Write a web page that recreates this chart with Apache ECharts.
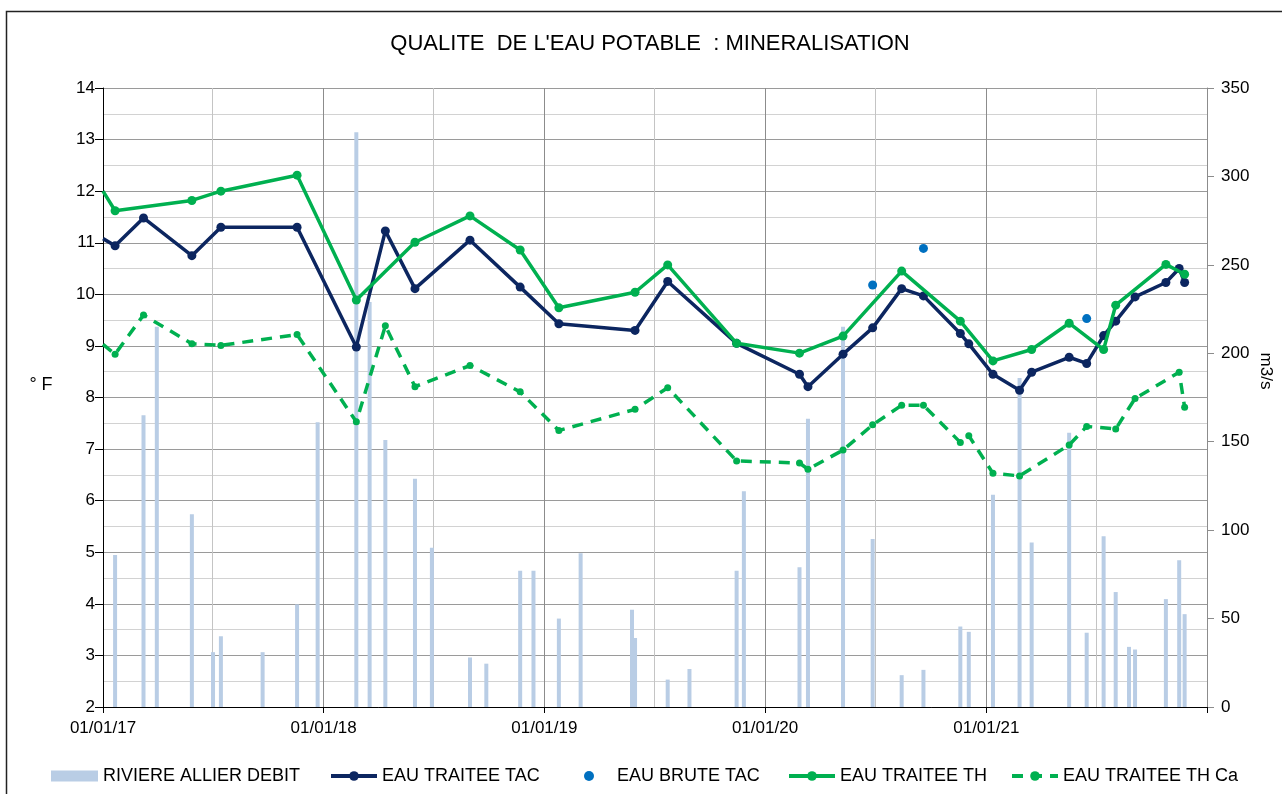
<!DOCTYPE html>
<html>
<head>
<meta charset="utf-8">
<script src="https://cdn.jsdelivr.net/npm/echarts@6/dist/echarts.min.js"></script>
<style>
  html, body { margin: 0; padding: 0; background: #fff; }
  #chart { width: 1282px; height: 794px; }
</style>
</head>
<body>
<div id="chart"></div>
<script>
// ---- Data -------------------------------------------------------------
const yearTicks = ['2017-01-01', '2018-01-01', '2019-01-01', '2020-01-01', '2021-01-01', '2022-01-01'];
const yearLabels = ['2017-01-01', '2018-01-01', '2019-01-01', '2020-01-01', '2021-01-01'];
const halfYearLines = ['2017-07-01', '2018-07-01', '2019-07-01', '2020-07-01', '2021-07-01'];

// River flow (m3/s)
const debitDates = [
  '2017-01-21', '2017-03-09', '2017-03-31', '2017-05-28', '2017-07-02', '2017-07-15', '2017-09-22', '2017-11-18', '2017-12-22',
  '2018-02-24', '2018-03-18', '2018-04-13', '2018-06-01', '2018-06-29', '2018-08-31', '2018-09-27', '2018-11-22', '2018-12-14',
  '2019-01-25', '2019-03-02', '2019-05-26', '2019-05-31', '2019-07-24', '2019-08-29', '2019-11-15', '2019-11-27',
  '2020-02-27', '2020-03-12', '2020-05-09', '2020-06-27', '2020-08-14', '2020-09-19', '2020-11-19', '2020-12-03',
  '2021-01-12', '2021-02-25', '2021-03-17', '2021-05-18', '2021-06-16', '2021-07-14', '2021-08-03', '2021-08-25',
  '2021-09-04', '2021-10-25', '2021-11-16', '2021-11-25'
];
const debitValues = [
  86, 165, 215, 109, 31, 40, 31, 58, 161,
  325, 229, 151, 129, 90, 28, 24.5, 77, 77,
  50, 87, 55, 39, 15.5, 21.5, 77, 122,
  79, 163, 215, 95, 18, 21, 45.5, 42.5,
  120, 186, 93, 155, 42, 96.5, 65, 34,
  32.5, 61, 83, 52.5
];

// Treated water TAC (°F)
const tacDates = [
  '2017-01-01', '2017-01-21', '2017-03-09', '2017-05-28', '2017-07-15', '2017-11-18',
  '2018-02-24', '2018-04-13', '2018-06-01', '2018-08-31', '2018-11-22',
  '2019-01-25', '2019-05-31', '2019-07-24', '2019-11-15',
  '2020-02-27', '2020-03-12', '2020-05-09', '2020-06-27', '2020-08-14', '2020-09-19', '2020-11-19', '2020-12-03',
  '2021-01-12', '2021-02-25', '2021-03-17', '2021-05-18', '2021-06-16', '2021-07-14', '2021-08-03', '2021-09-04',
  '2021-10-25', '2021-11-16', '2021-11-25'
];
const tacValues = [
  11.08, 10.94, 11.48, 10.75, 11.30, 11.30,
  8.98, 11.23, 10.11, 11.05, 10.14,
  9.43, 9.30, 10.25, 9.05,
  8.45, 8.21, 8.84, 9.35, 10.11, 9.97, 9.24, 9.04,
  8.45, 8.14, 8.49, 8.78, 8.66, 9.20, 9.48, 9.95,
  10.23, 10.50, 10.23
];

// Raw water TAC (°F)
const bruteDates = ['2020-06-27', '2020-09-19', '2021-06-16'];
const bruteValues = [10.18, 10.89, 9.53];

// Treated water TH (°F)
const thDates = [
  '2017-01-01', '2017-01-21', '2017-05-28', '2017-07-15', '2017-11-18',
  '2018-02-24', '2018-06-01', '2018-08-31', '2018-11-22',
  '2019-01-25', '2019-05-31', '2019-07-24', '2019-11-15',
  '2020-02-27', '2020-05-09', '2020-08-14', '2020-11-19',
  '2021-01-12', '2021-03-17', '2021-05-18', '2021-07-14', '2021-08-03', '2021-10-25', '2021-11-25'
];
const thValues = [
  12.00, 11.62, 11.82, 12.00, 12.31,
  9.89, 11.01, 11.52, 10.86,
  9.74, 10.04, 10.57, 9.05,
  8.86, 9.19, 10.45, 9.48,
  8.71, 8.93, 9.44, 8.93, 9.79, 10.58, 10.39
];

// Treated water TH Ca (°F)
const thCaDates = [
  '2017-01-01', '2017-01-21', '2017-03-09', '2017-05-28', '2017-07-15', '2017-11-18',
  '2018-02-24', '2018-04-13', '2018-06-01', '2018-08-31', '2018-11-22',
  '2019-01-25', '2019-05-31', '2019-07-24', '2019-11-15',
  '2020-02-27', '2020-03-12', '2020-05-09', '2020-06-27', '2020-08-14', '2020-09-19', '2020-11-19', '2020-12-03',
  '2021-01-12', '2021-02-25', '2021-05-18', '2021-06-16', '2021-08-03', '2021-09-04', '2021-11-16', '2021-11-25'
];
const thCaValues = [
  9.03, 8.84, 9.60, 9.04, 9.01, 9.22,
  7.53, 9.39, 8.21, 8.62, 8.11,
  7.36, 7.77, 8.19, 6.77,
  6.73, 6.61, 6.98, 7.47, 7.85, 7.85, 7.13, 7.26,
  6.53, 6.48, 7.08, 7.44, 7.39, 7.98, 8.49, 7.81
];

const seriesNames = ['RIVIERE ALLIER DEBIT', 'EAU TRAITEE TAC', 'EAU BRUTE TAC', 'EAU TRAITEE TH', 'EAU TRAITEE TH Ca'];

// ---- Helpers ----------------------------------------------------------
const FONT = "'Liberation Sans', Arial, Helvetica, sans-serif";
const NAVY = '#0C2660';
const GREEN = '#00B050';
const BLUE = '#0070C0';
const LIGHT = '#B9CDE5';

// dates are placed on a numeric (millisecond) axis so ticks can sit exactly on chosen days
const toTime = s => {
  const [y, m, d] = s.split('-').map(Number);
  return new Date(y, m - 1, d).getTime();
};
const pairs = (dates, values) => dates.map((d, i) => [toTime(d), values[i]]);
// the opening point sits on the left frame edge: draw the line from it without a marker
const edgeStart = (dates, values) => pairs(dates, values).map((p, i) =>
  (i === 0 && dates[0] === yearTicks[0]) ? { value: p, symbol: 'none' } : p);
const pad = n => (n < 10 ? '0' : '') + n;
const fmtDate = v => {
  const d = new Date(v);
  return pad(d.getDate()) + '/' + pad(d.getMonth() + 1) + '/' + String(d.getFullYear()).slice(2);
};

const chart = echarts.init(document.getElementById('chart'), null, { renderer: 'canvas' });

const legendBase = {
  top: 767,
  padding: 0,
  itemWidth: 46,
  itemHeight: 12,
  lineStyle: { width: 4 },
  textStyle: { fontFamily: FONT, fontSize: 18, color: '#000' },
  selectedMode: false
};

const xMin = toTime(yearTicks[0]);
const xMax = toTime(yearTicks[yearTicks.length - 1]);

chart.setOption({
  animation: false,
  backgroundColor: '#fff',
  textStyle: { fontFamily: FONT },
  graphic: [
    {
      type: 'rect', silent: true, z: -10,
      shape: { x: 6.5, y: 11.5, width: 1300, height: 820 },
      style: { fill: 'none', stroke: '#222', lineWidth: 1.5 }
    },
    {
      type: 'text', silent: true,
      x: 650, y: 44,
      style: {
        text: "QUALITE  DE L'EAU POTABLE  : MINERALISATION",
        fontFamily: FONT, fontSize: 22, fill: '#000',
        textAlign: 'center', textVerticalAlign: 'middle'
      }
    },
    {
      type: 'text', silent: true,
      x: 41, y: 385,
      style: {
        text: '° F', fontFamily: FONT, fontSize: 18, fill: '#000',
        textAlign: 'center', textVerticalAlign: 'middle'
      }
    },
    {
      type: 'text', silent: true,
      x: 1266, y: 371, rotation: -Math.PI / 2,
      style: {
        text: 'm3/s', fontFamily: FONT, fontSize: 17, fill: '#000',
        textAlign: 'center', textVerticalAlign: 'middle'
      }
    }
  ],
  grid: { left: 103, right: 75, top: 88, bottom: 87, containLabel: false, outerBoundsMode: 'none' },
  legend: [
    Object.assign({}, legendBase, { left: 51, itemWidth: 47, itemHeight: 11, data: [{ name: seriesNames[0], icon: 'rect' }] }),
    Object.assign({}, legendBase, { left: 329, data: [seriesNames[1]] }),
    Object.assign({}, legendBase, { left: 584, itemHeight: 10, data: [{ name: seriesNames[2], icon: 'circle' }] }),
    Object.assign({}, legendBase, { left: 787, data: [seriesNames[3]] }),
    Object.assign({}, legendBase, { left: 1010, data: [seriesNames[4]] })
  ],
  xAxis: [
    {
      type: 'value',
      min: xMin,
      max: xMax,
      axisLine: { show: true, lineStyle: { color: '#000', width: 1 } },
      axisTick: { show: true, length: 6, lineStyle: { color: '#000' }, customValues: yearTicks.map(toTime) },
      axisLabel: {
        customValues: yearLabels.map(toTime),
        formatter: fmtDate,
        fontFamily: FONT, fontSize: 17, color: '#000', margin: 13
      },
      splitLine: { show: true, lineStyle: { color: '#8c8c8c', width: 1 } }
    },
    {
      // half-year vertical gridlines
      type: 'value',
      position: 'bottom',
      min: xMin,
      max: xMax,
      axisLine: { show: false },
      axisTick: { show: false, customValues: halfYearLines.map(toTime) },
      axisLabel: { show: false },
      splitLine: { show: true, lineStyle: { color: '#c4c4c4', width: 1 } }
    }
  ],
  yAxis: [
    {
      type: 'value',
      min: 2, max: 14, interval: 1,
      axisLine: { show: true, lineStyle: { color: '#000', width: 1 } },
      axisTick: { show: true, length: 8, lineStyle: { color: '#000' } },
      axisLabel: { fontFamily: FONT, fontSize: 17, color: '#000', margin: 8 },
      splitLine: { show: true, lineStyle: { color: '#9a9a9a', width: 1 } },
      minorTick: { show: false, splitNumber: 2 },
      minorSplitLine: { show: true, lineStyle: { color: '#d2d2d2', width: 1 } }
    },
    {
      type: 'value',
      min: 0, max: 350, interval: 50,
      position: 'right',
      axisLine: { show: true, lineStyle: { color: '#8c8c8c', width: 1 } },
      axisTick: { show: true, length: 7, lineStyle: { color: '#8c8c8c' } },
      axisLabel: { fontFamily: FONT, fontSize: 17, color: '#000', margin: 14 },
      splitLine: { show: false }
    }
  ],
  series: [
    {
      name: seriesNames[0],
      type: 'bar',
      xAxisIndex: 0,
      yAxisIndex: 1,
      barWidth: 4,
      itemStyle: { color: LIGHT },
      data: pairs(debitDates, debitValues),
      z: 2
    },
    {
      name: seriesNames[1],
      type: 'line',
      yAxisIndex: 0,
      symbol: 'circle',
      symbolSize: 9,
      lineStyle: { color: NAVY, width: 3.5 },
      itemStyle: { color: NAVY },
      data: edgeStart(tacDates, tacValues),
      z: 3
    },
    {
      name: seriesNames[2],
      type: 'scatter',
      yAxisIndex: 0,
      symbol: 'circle',
      symbolSize: 9,
      itemStyle: { color: BLUE, opacity: 1 },
      data: pairs(bruteDates, bruteValues),
      z: 4
    },
    {
      name: seriesNames[3],
      type: 'line',
      yAxisIndex: 0,
      symbol: 'circle',
      symbolSize: 9,
      lineStyle: { color: GREEN, width: 3.5 },
      itemStyle: { color: GREEN },
      data: edgeStart(thDates, thValues),
      z: 5
    },
    {
      name: seriesNames[4],
      type: 'line',
      yAxisIndex: 0,
      symbol: 'circle',
      symbolSize: 7,
      lineStyle: { color: GREEN, width: 3.5, type: [11, 8] },
      itemStyle: { color: GREEN },
      data: edgeStart(thCaDates, thCaValues),
      z: 6
    }
  ]
});
</script>
</body>
</html>
